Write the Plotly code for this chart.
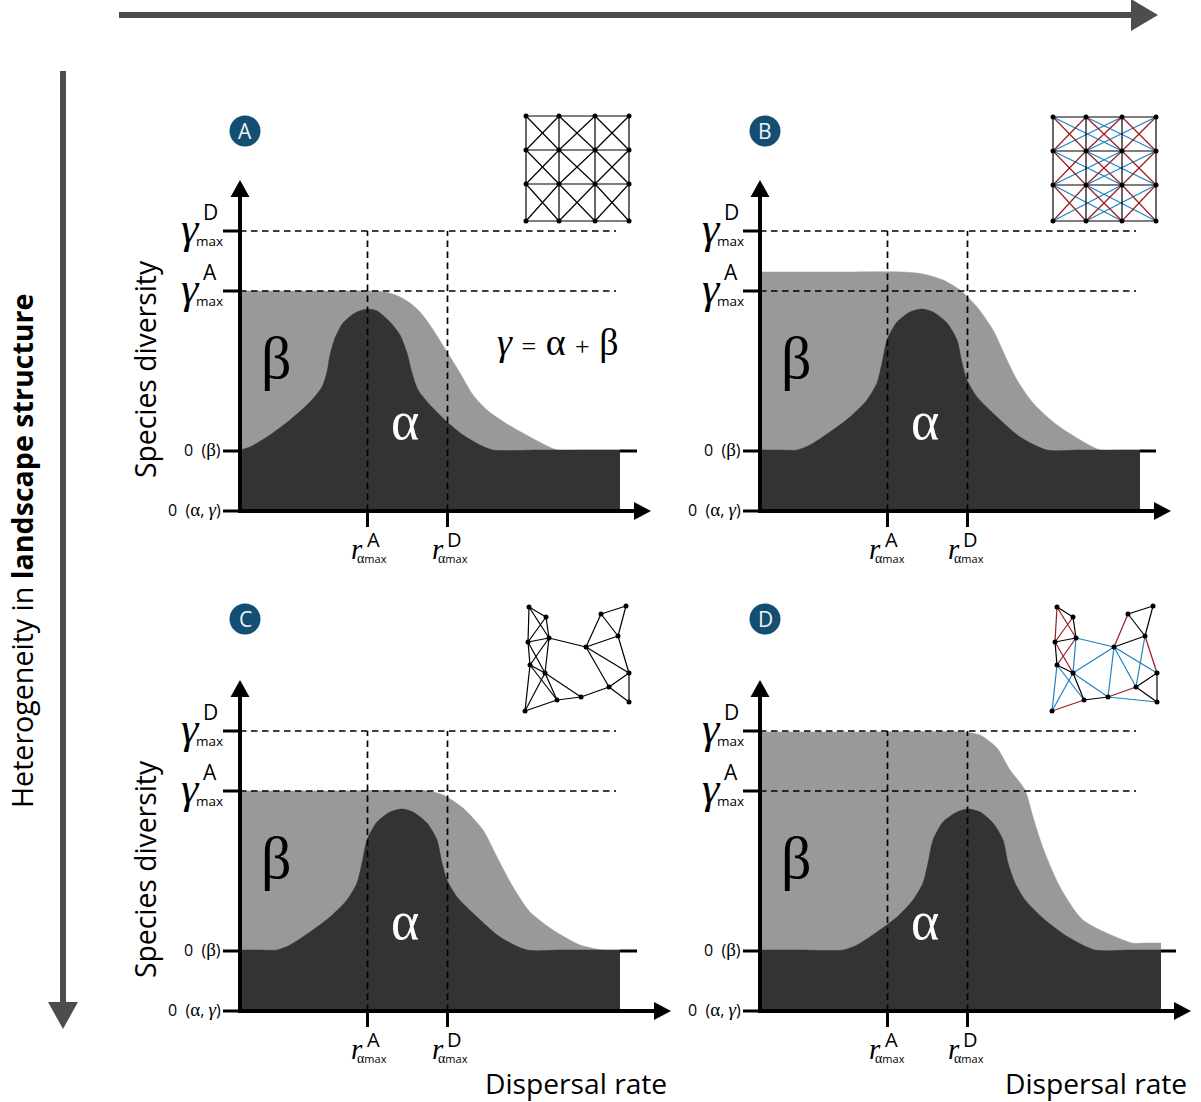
import plotly.graph_objects as go

W, H = 1201, 1102
ORIGINS = {"A": (240, 511), "B": (760, 511), "C": (240, 1011), "D": (760, 1011)}

# Diversity curves (horizontal: dispersal rate, vertical: species diversity, diagram units)
alpha_x_A = [0,10,30,50,70,82,87,90,95,103,115,127,137,150,160,167,172,178,190,207,223,240,253,300,380]
alpha_y_A = [61,64,76,91,109,124,139,156,173,188,198,202,200,189,176,158,138,121,106,89,76,66,61,61,61]
gamma_x_A = [0,80,130,145,158,170,180,190,207,220,233,247,267,290,317,340,380]
gamma_y_A = [220,220,220,219,215,208,199,186,159,138,116,101,87,74,61,61,61]

alpha_x_B = [0,20,37,50,70,90,107,117,122,127,137,150,162,173,187,197,202,207,217,237,260,287,320,380]
alpha_y_B = [61,61,61,66,79,94,111,128,148,171,189,199,202,199,188,171,148,131,114,94,74,61,61,61]
gamma_x_B = [0,80,143,163,183,200,217,233,247,257,273,297,340,360,380]
gamma_y_B = [239,239,239,237,231,221,204,181,151,131,108,86,61,61,61]

alpha_x_C = alpha_x_B
alpha_y_C = alpha_y_B
gamma_x_C = [0,100,187,203,223,243,257,273,290,313,340,363,380]
gamma_y_C = [220,220,220,216,203,181,154,124,99,81,66,61,61]

alpha_x_D = [0,40,83,97,117,137,153,163,168,173,183,197,208,220,233,243,248,255,265,285,308,335,370,401]
alpha_y_D = [61,61,61,66,79,94,111,128,148,171,189,199,202,199,188,171,148,128,111,91,74,61,61,61]
gamma_x_D = [0,100,203,220,237,250,265,273,283,300,323,372,385,401]
gamma_y_D = [279,279,279,276,263,241,221,194,163,124,91,68,68,68]

ALPHA = {"A": (alpha_x_A, alpha_y_A), "B": (alpha_x_B, alpha_y_B), "C": (alpha_x_C, alpha_y_C), "D": (alpha_x_D, alpha_y_D)}
GAMMA = {"A": (gamma_x_A, gamma_y_A), "B": (gamma_x_B, gamma_y_B), "C": (gamma_x_C, gamma_y_C), "D": (gamma_x_D, gamma_y_D)}

# Reference levels
gamma_max_D = 280
gamma_max_A = 220
beta_zero = 60
r_max_A = 127.5
r_max_D = 207.5
dash_end = 376
x_axis_tip = {"A": 411, "B": 411, "C": 431, "D": 431}
y_axis_tip = 331
right_tick = {"A": (380, 397), "B": (380, 396), "C": (380, 397), "D": (401, 416)}
r_label_x = {"A": (117, 198), "B": (115, 194), "C": (117, 198), "D": (115, 194)}

# Landscape graphs
grid_x_A = [286, 319, 355, 389]
grid_y_A = [395, 361, 327, 290]
grid_x_B = [293, 326, 362, 396]
grid_y_B = [394, 360, 326, 290]

net_x_C = [289,306,288,309,290,305,285,317,341,346,361,386,378,389,369,389]
net_y_C = [404,394,369,373,346,338,300,311,314,364,397,405,375,338,324,309]
edges_C = [(0,1),(0,2),(0,3),(1,2),(1,3),(2,3),(2,4),(3,4),(3,5),(2,5),(4,5),(4,6),(5,6),(4,7),(5,7),(6,7),
           (7,8),(5,8),(3,9),(9,10),(10,11),(10,12),(11,12),(9,12),(12,13),(9,13),(9,14),(13,14),(13,15),(14,15),(8,14)]

net_x_D = [297,313,295,316,297,313,292,324,348,354,368,393,385,397,376,397]
net_y_D = [404,394,369,373,346,338,300,311,314,364,397,405,375,338,324,309]
edges_D_black = [(0,1),(1,3),(2,3),(2,4),(4,5),(5,7),(7,8),(10,11),(11,12),(10,12),(9,12),(13,14),(14,15),(13,15)]
edges_D_red = [(0,2),(0,3),(1,2),(2,5),(3,4),(6,7),(9,10),(8,14),(12,13)]
edges_D_blue = [(3,9),(3,5),(5,9),(4,6),(5,6),(4,7),(5,8),(8,9),(9,14),(9,13),(12,14),(8,15)]

# Colours and fonts
C_GAMMA, C_ALPHA = "#999999", "#333333"
C_RED, C_BLUE, C_BADGE, C_BIG = "#9c1c1f", "#1f82bd", "#134f72", "#4d4d4d"
SANS, SERIF = "Open Sans", "Liberation Serif"

fig = go.Figure()
layout_axes = {}
annotations = []


def axis_names(idx):
    s = "" if idx == 1 else str(idx)
    return f"x{s}", f"y{s}", f"xaxis{s}", f"yaxis{s}"


for i, (name, (ox, oy)) in enumerate(ORIGINS.items(), start=1):
    xn, yn, xa, ya = axis_names(i)
    layout_axes[xa] = dict(domain=[(ox - 110) / W, (ox + 435) / W], range=[-110, 435], visible=False, anchor=yn, fixedrange=True)
    layout_axes[ya] = dict(domain=[1 - (oy + 90) / H, 1 - (oy - 420) / H], range=[-90, 420], visible=False, anchor=xn, fixedrange=True)
layout_axes["xaxis5"] = dict(domain=[0, 1], range=[0, W], visible=False, anchor="y5", fixedrange=True)
layout_axes["yaxis5"] = dict(domain=[0, 1], range=[H, 0], visible=False, anchor="x5", fixedrange=True)


def line(xs, ys, xn, yn, color="black", width=1.0, dash=None):
    fig.add_trace(go.Scatter(x=xs, y=ys, mode="lines", xaxis=xn, yaxis=yn, hoverinfo="skip", showlegend=False,
                             line=dict(color=color, width=width, dash=dash)))


def poly(xs, ys, xn, yn, color):
    fig.add_trace(go.Scatter(x=xs, y=ys, mode="lines", fill="toself", fillcolor=color, xaxis=xn, yaxis=yn,
                             hoverinfo="skip", showlegend=False, line=dict(color=color, width=0)))


def text(s, x, y, size, xn, yn, family=SANS, color="black", angle=0, anchor="center"):
    annotations.append(dict(text=s, x=x, y=y, xref=xn, yref=yn, showarrow=False, xanchor=anchor, yanchor="middle",
                            textangle=angle, font=dict(size=size, family=family, color=color),
                            borderpad=0, borderwidth=0))


def greek(s, size=19):
    return f'<span style="font-family:Liberation Serif;font-size:{size}px">{s}</span>'


def edges_trace(xs, ys, edges, xn, yn, color):
    ex, ey = [], []
    for a, b in edges:
        ex += [xs[a], xs[b], None]
        ey += [ys[a], ys[b], None]
    line(ex, ey, xn, yn, color=color, width=1.2)


def nodes(xs, ys, xn, yn):
    fig.add_trace(go.Scatter(x=xs, y=ys, mode="markers", xaxis=xn, yaxis=yn, hoverinfo="skip", showlegend=False,
                             marker=dict(color="black", size=5, line=dict(width=0))))


for i, name in enumerate(ORIGINS, start=1):
    xn, yn, _, _ = axis_names(i)
    gx, gy = GAMMA[name]
    ax_, ay_ = ALPHA[name]
    for (cx, cy), col in (((gx, gy), C_GAMMA), ((ax_, ay_), C_ALPHA)):
        fig.add_trace(go.Scatter(x=cx, y=cy, mode="lines", fill="tozeroy", fillcolor=col, xaxis=xn, yaxis=yn,
                                 hoverinfo="skip", showlegend=False,
                                 line=dict(color=col, width=0.5, shape="spline", smoothing=0.7)))
    # guide lines
    for lvl in (gamma_max_D, gamma_max_A):
        line([0, dash_end], [lvl, lvl], xn, yn, width=1.7, dash="6.5px,4.5px")
    for rv in (r_max_A, r_max_D):
        line([rv, rv], [0, gamma_max_D], xn, yn, width=1.7, dash="6.5px,4.5px")
    # ticks
    for lvl in (gamma_max_D, gamma_max_A, beta_zero, 0):
        line([-17, 0], [lvl, lvl], xn, yn, width=3)
    for rv in (r_max_A, r_max_D):
        line([rv, rv], [-16, 0], xn, yn, width=3)
    line(list(right_tick[name]), [beta_zero, beta_zero], xn, yn, width=3)
    # axes with arrow heads
    tip = x_axis_tip[name]
    line([-2, tip - 10], [0, 0], xn, yn, width=4)
    line([0, 0], [-2, y_axis_tip - 10], xn, yn, width=4)
    poly([tip - 17, tip, tip - 17, tip - 17], [9, 0, -9, 9], xn, yn, "black")
    poly([-9.5, 0, 9.5, -9.5], [y_axis_tip - 17, y_axis_tip, y_axis_tip - 17, y_axis_tip - 17], xn, yn, "black")

    # labels
    shift = 0 if name in "AC" else 1
    for lvl, sup in ((gamma_max_D, "D"), (gamma_max_A, "A")):
        text("<i>γ</i>", -50 + shift, lvl + 3, 44, xn, yn, SERIF)
        text(sup, -30 + shift, lvl + 19, 21, xn, yn)
        text("max", -31 + shift, lvl - 10, 13.5, xn, yn)
    text(f"0 &nbsp;({greek('β')})", -19, beta_zero + 1, 16, xn, yn, anchor="right")
    text(f"0 &nbsp;({greek('α')},&nbsp;{greek('<i>γ</i>')})", -19, 1, 16, xn, yn, anchor="right")
    for rx, sup in zip(r_label_x[name], ("A", "D")):
        text("<i>r</i>", rx, -38, 29, xn, yn, SERIF)
        text(sup, rx + 16, -28, 20, xn, yn)
        text(f"{greek('α', 14)}max", rx + 15, -47, 11, xn, yn)
    text("β", 36, 153, 60, xn, yn, SERIF)
    text("α", 165, 90, 54, xn, yn, SERIF, color="white")
    if name in "CD":
        text("Dispersal rate", 336, -72, 28.2, xn, yn)
    if name in "AC":
        text("Species diversity", -95, 142, 28.3, xn, yn, angle=-90)

# insets
edges_grid = []
for r in range(4):
    for c in range(3):
        edges_grid.append((r * 4 + c, r * 4 + c + 1))
        edges_grid.append((c * 4 + r, (c + 1) * 4 + r))
edges_x = []
edges_knight = []
for r in range(3):
    for c in range(3):
        edges_x += [(r * 4 + c, (r + 1) * 4 + c + 1), (r * 4 + c + 1, (r + 1) * 4 + c)]
    for c in range(2):
        edges_knight += [(r * 4 + c, (r + 1) * 4 + c + 2), (r * 4 + c + 2, (r + 1) * 4 + c)]


def grid_nodes(gx, gy):
    return [x for y in gy for x in gx], [y for y in gy for x in gx]


ax_nodes, ay_nodes = grid_nodes(grid_x_A, grid_y_A)
edges_trace(ax_nodes, ay_nodes, edges_grid + edges_x, "x", "y", "black")
nodes(ax_nodes, ay_nodes, "x", "y")

bx_nodes, by_nodes = grid_nodes(grid_x_B, grid_y_B)
edges_trace(bx_nodes, by_nodes, edges_knight, "x2", "y2", C_BLUE)
edges_trace(bx_nodes, by_nodes, edges_x, "x2", "y2", C_RED)
edges_trace(bx_nodes, by_nodes, edges_grid, "x2", "y2", "black")
nodes(bx_nodes, by_nodes, "x2", "y2")

edges_trace(net_x_C, net_y_C, edges_C, "x3", "y3", "black")
nodes(net_x_C, net_y_C, "x3", "y3")

edges_trace(net_x_D, net_y_D, edges_D_blue, "x4", "y4", C_BLUE)
edges_trace(net_x_D, net_y_D, edges_D_red, "x4", "y4", C_RED)
edges_trace(net_x_D, net_y_D, edges_D_black, "x4", "y4", "black")
nodes(net_x_D, net_y_D, "x4", "y4")

# equation
text('<i>γ</i> <span style="font-size:26px">=</span> α <span style="font-size:26px">+</span> β',
     318, 169, 38, "x", "y", SERIF)

# panel badges
badge_x = [245, 765, 245, 765]
badge_y = [131, 131, 619, 619]
badge_labels = list(ORIGINS)
fig.add_trace(go.Scatter(x=badge_x, y=badge_y, mode="markers", xaxis="x5", yaxis="y5", hoverinfo="skip", showlegend=False,
                         marker=dict(color=C_BADGE, size=31, line=dict(width=0))))
for bx, by, bl in zip(badge_x, badge_y, badge_labels):
    text(bl, bx, by, 21, "x5", "y5", color="#f2f2f2")

# big direction arrows
big_top_x = [119, 1131]
big_top_y = [15, 15]
big_left_x = [63, 63]
big_left_y = [71, 1002]
line(big_top_x, big_top_y, "x5", "y5", color=C_BIG, width=6)
line(big_left_x, big_left_y, "x5", "y5", color=C_BIG, width=6)
poly([1131, 1158, 1131, 1131], [-1, 15, 31, -1], "x5", "y5", C_BIG)
poly([48, 63, 78, 48], [1002, 1029, 1002, 1002], "x5", "y5", C_BIG)
text("Heterogeneity in <b>landscape structure</b>", 21, 551, 28.6, "x5", "y5", angle=-90)

fig.update_layout(width=W, height=H, margin=dict(l=0, r=0, t=0, b=0), paper_bgcolor="white", plot_bgcolor="rgba(0,0,0,0)",
                  showlegend=False, annotations=annotations, **layout_axes)
fig.write_html("out.html", config={"displayModeBar": False}, post_script="document.body.style.margin='0';")
